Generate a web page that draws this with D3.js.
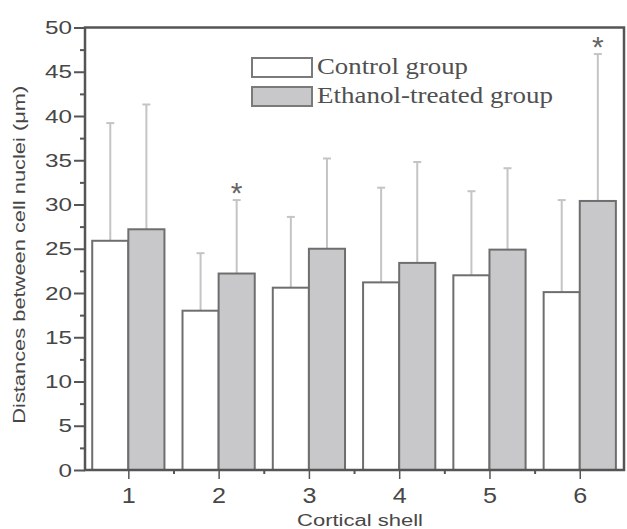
<!DOCTYPE html>
<html>
<head>
<meta charset="utf-8">
<script src="https://cdn.jsdelivr.net/npm/d3@7"></script>
<style>
  body { margin: 0; background: #fff; }
  svg { display: block; }
</style>
</head>
<body>
<script>
// cortical shells and group means / SD
const shells = [1, 2, 3, 4, 5, 6];
const controlMean = [25.9, 18.0, 20.6, 21.2, 22.0, 20.1];
const controlSD = [13.3, 6.5, 8.0, 10.7, 9.5, 10.4];
const ethanolMean = [27.2, 22.2, 25.0, 23.4, 24.9, 30.4];
const ethanolSD = [14.1, 8.3, 10.2, 11.4, 9.2, 16.6];
const significant = [false, true, false, false, false, true];
const yTicks = [0, 5, 10, 15, 20, 25, 30, 35, 40, 45, 50];
const groupNames = ["Control group", "Ethanol-treated group"];

const W = 627, H = 529;
const plotL = 85, plotR = 624, plotT = 27.5, plotB = 470;

const svg = d3.select("body").append("svg")
  .attr("width", W)
  .attr("height", H);

const x = d3.scaleLinear().domain([0.52, 6.49]).range([plotL, plotR]);
const y = d3.scaleLinear().domain([0, 50]).range([plotB, plotT]);
const bw = 0.4; // bar width in x units

const axisCol = "#555";
const textCol = "#474747";
const barStroke = "#6e6e6e";
const grayFill = "#c8c8ca";
const errCol = "#c4c4c6";

// error bars (drawn first so bars sit on top)
function errorBars(means, sds, offset, cls) {
  const g = svg.append("g").attr("class", cls);
  shells.forEach((s, i) => {
    const cx = x(s + offset);
    const yTop = y(means[i] + sds[i]);
    g.append("line")
      .attr("x1", cx).attr("x2", cx)
      .attr("y1", y(means[i])).attr("y2", yTop)
      .attr("stroke", errCol).attr("stroke-width", 2);
    g.append("line")
      .attr("x1", cx - 4).attr("x2", cx + 4)
      .attr("y1", yTop).attr("y2", yTop)
      .attr("stroke", errCol).attr("stroke-width", 2);
  });
}
errorBars(controlMean, controlSD, -bw / 2, "err-control");
errorBars(ethanolMean, ethanolSD, bw / 2, "err-ethanol");

// bars
svg.append("g").selectAll("rect")
  .data(shells)
  .join("rect")
  .attr("x", d => x(d - bw))
  .attr("y", (d, i) => y(controlMean[i]))
  .attr("width", x(bw) - x(0))
  .attr("height", (d, i) => y(0) - y(controlMean[i]))
  .attr("fill", "#fff")
  .attr("stroke", barStroke)
  .attr("stroke-width", 2);

svg.append("g").selectAll("rect")
  .data(shells)
  .join("rect")
  .attr("x", d => x(d))
  .attr("y", (d, i) => y(ethanolMean[i]))
  .attr("width", x(bw) - x(0))
  .attr("height", (d, i) => y(0) - y(ethanolMean[i]))
  .attr("fill", grayFill)
  .attr("stroke", barStroke)
  .attr("stroke-width", 2);

// significance asterisks
svg.append("g").selectAll("text")
  .data(shells.filter((d, i) => significant[i]))
  .join("text")
  .attr("x", d => x(d + bw / 2))
  .attr("y", d => y(ethanolMean[d - 1] + ethanolSD[d - 1]) + 3)
  .attr("text-anchor", "middle")
  .attr("font-family", "Liberation Sans, Arial, sans-serif")
  .attr("font-size", 30)
  .attr("fill", "#666")
  .text("*");

// frame
svg.append("rect")
  .attr("x", plotL).attr("y", plotT)
  .attr("width", plotR - plotL).attr("height", plotB - plotT)
  .attr("fill", "none")
  .attr("stroke", axisCol)
  .attr("stroke-width", 2.5);

// y axis
const yAxis = d3.axisLeft(y).tickValues(yTicks).tickSize(11).tickPadding(2);
const gy = svg.append("g")
  .attr("transform", "translate(" + plotL + ",0)")
  .call(yAxis);
gy.select(".domain").remove();
gy.selectAll(".tick line").attr("stroke", axisCol).attr("stroke-width", 2);
gy.selectAll(".tick text")
  .attr("font-family", "Liberation Sans, Arial, sans-serif")
  .attr("font-size", 19)
  .attr("fill", textCol)
  .attr("textLength", d => String(d).length * 13.5)
  .attr("lengthAdjust", "spacingAndGlyphs");

const yMinor = d3.axisLeft(y).tickValues(yTicks.slice(0, -1).map(v => v + 2.5)).tickSize(5).tickFormat("");
const gym = svg.append("g")
  .attr("transform", "translate(" + plotL + ",0)")
  .call(yMinor);
gym.select(".domain").remove();
gym.selectAll(".tick line").attr("stroke", axisCol).attr("stroke-width", 2);

// x axis
const xAxis = d3.axisBottom(x).tickValues(shells).tickFormat(d3.format("d")).tickSize(9).tickPadding(8);
const gx = svg.append("g")
  .attr("transform", "translate(0," + plotB + ")")
  .call(xAxis);
gx.select(".domain").remove();
gx.selectAll(".tick line").attr("stroke", axisCol).attr("stroke-width", 1.5);
gx.selectAll(".tick text")
  .attr("font-family", "Liberation Sans, Arial, sans-serif")
  .attr("font-size", 22)
  .attr("fill", textCol)
  .attr("textLength", 14)
  .attr("lengthAdjust", "spacingAndGlyphs");

const xMinor = d3.axisBottom(x).tickValues(shells.map(v => v + 0.5).slice(0, -1)).tickSize(4).tickFormat("");
const gxm = svg.append("g")
  .attr("transform", "translate(0," + plotB + ")")
  .call(xMinor);
gxm.select(".domain").remove();
gxm.selectAll(".tick line").attr("stroke", axisCol).attr("stroke-width", 2);

// axis titles
svg.append("text")
  .attr("transform", "translate(25," + ((plotT + plotB) / 2 + 6) + ") rotate(-90)")
  .attr("text-anchor", "middle")
  .attr("font-family", "Liberation Sans, Arial, sans-serif")
  .attr("font-size", 17)
  .attr("fill", textCol)
  .attr("textLength", 338)
  .attr("lengthAdjust", "spacingAndGlyphs")
  .text("Distances between cell nuclei (μm)");

svg.append("text")
  .attr("x", 360)
  .attr("y", 526)
  .attr("text-anchor", "middle")
  .attr("font-family", "Liberation Sans, Arial, sans-serif")
  .attr("font-size", 16)
  .attr("fill", textCol)
  .attr("textLength", 126)
  .attr("lengthAdjust", "spacingAndGlyphs")
  .text("Cortical shell");

// legend
const legendFill = ["#fff", grayFill];
const legendLen = [151, 236];
const lg = svg.append("g").attr("transform", "translate(252,58)");
groupNames.forEach((name, i) => {
  lg.append("rect")
    .attr("x", 0).attr("y", i * 29)
    .attr("width", 60).attr("height", 19)
    .attr("fill", legendFill[i])
    .attr("stroke", "#7a7a7a")
    .attr("stroke-width", 2);
  lg.append("text")
    .attr("x", 65).attr("y", i * 29 + 16)
    .attr("font-family", "Liberation Serif, Times New Roman, serif")
    .attr("font-size", 23)
    .attr("fill", "#505050")
    .attr("textLength", legendLen[i])
    .attr("lengthAdjust", "spacingAndGlyphs")
    .text(name);
});
</script>
</body>
</html>
